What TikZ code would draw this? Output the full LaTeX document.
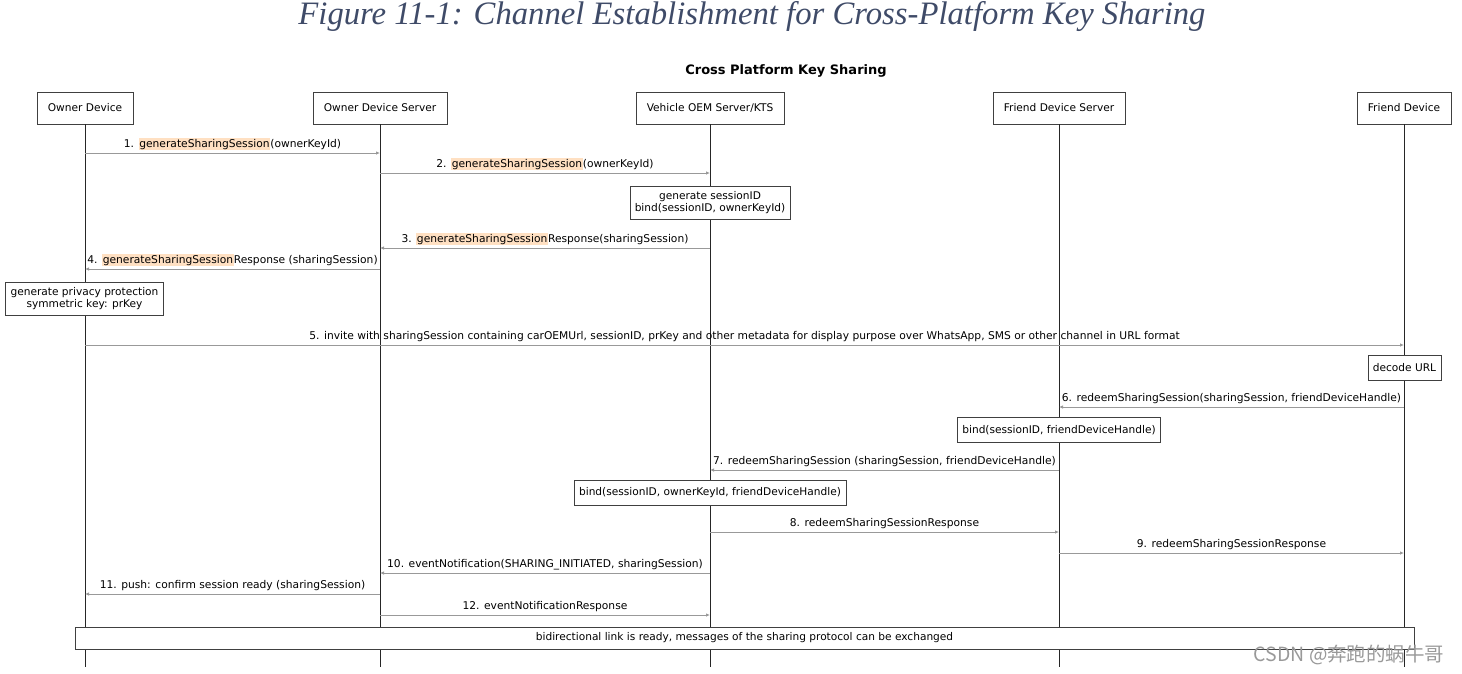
\documentclass[tikz,border=0pt]{standalone}
\usepackage{fontspec}
\setmainfont{DejaVu Sans}
\newfontfamily\titlefont{Liberation Serif}
\newfontfamily\cjkfont{Noto Sans CJK SC}
\usetikzlibrary{arrows.meta,positioning}
\definecolor{hlpeach}{HTML}{FFE0C2}
\definecolor{titleblue}{HTML}{3F4B68}
\newcommand{\hl}[1]{{\setlength{\fboxsep}{0.7pt}\colorbox{hlpeach}{#1}}}
\newcommand{\callmsg}[4]{\draw[msgline] (#2 |- 0,#1) -- node[msglbl]{#4} (#3 |- 0,#1);}

\begin{document}
\begin{tikzpicture}[x=1pt,y=-1pt,
  actor/.style={draw=black!75,fill=white,minimum height=32,inner xsep=11,font=\fontsize{10.6}{12.6}\selectfont},
  note/.style={draw=black!75,fill=white,align=center,inner xsep=5,inner ysep=5,minimum height=25,font=\fontsize{10.6}{12.6}\selectfont},
  life/.style={draw=black!85,line width=0.9},
  msgline/.style={draw=black!40,line width=0.9,-{Latex[length=4,width=3.5]}},
  msglbl/.style={above,inner sep=2.5,font=\fontsize{10.7}{12.6}\selectfont}]
\useasboundingbox (0,0) rectangle (1462,673);
% titles
\node[font=\titlefont\itshape\fontsize{32.7}{38}\selectfont,text=titleblue] (title) at (752,17) {Figure 11-1: Channel Establishment for Cross-Platform Key Sharing};
\node[font=\bfseries\fontsize{13}{15}\selectfont] (subtitle) at (786,71) {Cross Platform Key Sharing};
% participants
\node[actor] (od) at (85,108) {Owner Device};
\node[actor] (ods) at (380,108) {Owner Device Server};
\node[actor] (oem) at (710,108) {Vehicle OEM Server/KTS};
\node[actor] (fds) at (1059,108) {Friend Device Server};
\node[actor] (fd) at (1404,108) {Friend Device};
% lifelines
\foreach \p in {od,ods,oem,fds,fd}
  \draw[life] (\p.south) -- (\p.south |- 0,667);
% messages
\callmsg{153}{od}{ods}{1. \hl{generateSharingSession}(ownerKeyId)}
\callmsg{173}{ods}{oem}{2. \hl{generateSharingSession}(ownerKeyId)}
\node[note] (sessnote) at (710,202.5) {generate sessionID\\bind(sessionID, ownerKeyId)};
\callmsg{248}{oem}{ods}{3. \hl{generateSharingSession}Response(sharingSession)}
\callmsg{269}{ods}{od}{4. \hl{generateSharingSession}Response (sharingSession)}
\node[note] (prnote) at (84.5,298.5) {generate privacy protection\\symmetric key: prKey};
\callmsg{345}{od}{fd}{5. invite with sharingSession containing carOEMUrl, sessionID, prKey and other metadata for display purpose over WhatsApp, SMS or other channel in URL format}
\node[note] (decnote) at (1404.5,367.5) {decode URL};
\callmsg{407}{fd}{fds}{6. redeemSharingSession(sharingSession, friendDeviceHandle)}
\node[note] (fbind) at (1059,430) {bind(sessionID, friendDeviceHandle)};
\callmsg{470}{fds}{oem}{7. redeemSharingSession (sharingSession, friendDeviceHandle)}
\node[note] (obind) at (710,493) {bind(sessionID, ownerKeyId, friendDeviceHandle)};
\callmsg{532}{oem}{fds}{8. redeemSharingSessionResponse}
\callmsg{553}{fds}{fd}{9. redeemSharingSessionResponse}
\callmsg{573}{oem}{ods}{10. eventNotification(SHARING\_INITIATED, sharingSession)}
\callmsg{594}{ods}{od}{11. push: confirm session ready (sharingSession)}
\callmsg{615}{ods}{oem}{12. eventNotificationResponse}
\node[note,minimum width=1339,minimum height=22,inner ysep=2] (ready) at (744.5,638) {bidirectional link is ready, messages of the sharing protocol can be exchanged};
% watermark
\node[font=\cjkfont\fontsize{19.5}{22}\selectfont,text=black!40,anchor=east] (wm) at (1448,655) {CSDN @奔跑的蜗牛哥};
\end{tikzpicture}
\end{document}
